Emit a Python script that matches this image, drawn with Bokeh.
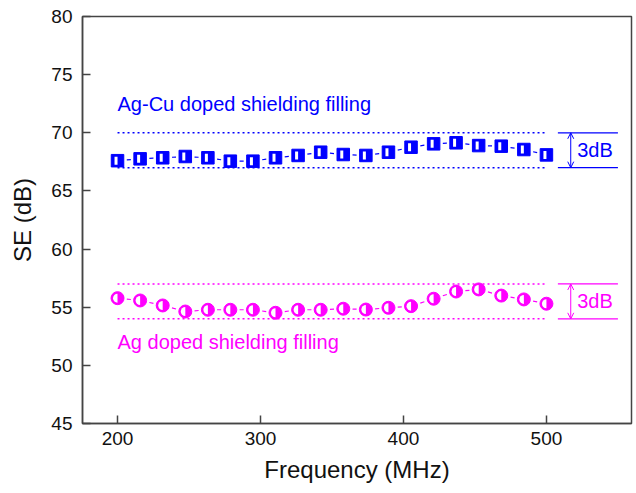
import numpy as np
from bokeh.plotting import figure
from bokeh.models import Range1d, FixedTicker, Arrow, OpenHead
from bokeh.core.properties import value
from bokeh.embed import file_html
from bokeh.resources import INLINE

# ---- data ----
freq = [200, 215.8, 231.6, 247.4, 263.2, 278.9, 294.7, 310.5, 326.3, 342.1,
        357.9, 373.7, 389.5, 405.3, 421.1, 436.8, 452.6, 468.4, 484.2, 500]
se_agcu = [67.6, 67.76, 67.85, 67.96, 67.85, 67.56, 67.56, 67.85, 68.05, 68.33,
           68.13, 68.05, 68.33, 68.76, 69.05, 69.14, 68.9, 68.85, 68.56, 68.1]
se_ag = [55.78, 55.58, 55.15, 54.63, 54.78, 54.78, 54.78, 54.52, 54.78, 54.78,
         54.87, 54.8, 54.95, 55.09, 55.73, 56.35, 56.53, 56.0, 55.67, 55.3]
agcu_band = [67, 70]
ag_band = [54, 57]
x_ticks = [200, 300, 400, 500]
y_ticks = [45, 50, 55, 60, 65, 70, 75, 80]
label_agcu = "Ag-Cu doped shielding filling"
label_ag = "Ag doped shielding filling"
band_label = "3dB"

BLUE = "#0000ff"
MAG = "#ff00ff"
FONT = "Liberation Sans"
AXC = "#444444"

p = figure(width=636, height=493, output_backend="svg", toolbar_location=None,
           x_range=Range1d(175.5, 559.5), y_range=Range1d(45, 80),
           min_border_left=82, min_border_right=5, min_border_top=16, min_border_bottom=70)
p.background_fill_color = "white"
p.border_fill_color = "white"
p.xgrid.visible = False
p.ygrid.visible = False
p.outline_line_color = AXC
p.outline_line_width = 1.5

for ax in (p.xaxis[0], p.yaxis[0]):
    ax.axis_line_color = AXC
    ax.axis_line_width = 1.5
    ax.major_tick_line_color = AXC
    ax.major_tick_line_width = 1.5
    ax.major_tick_in = 8
    ax.major_tick_out = 0
    ax.minor_tick_line_color = None
    ax.major_label_text_font = FONT
    ax.major_label_text_font_size = "19px"
    ax.major_label_text_color = "#111111"
    ax.axis_label_text_font = FONT
    ax.axis_label_text_font_size = "24px"
    ax.axis_label_text_font_style = "normal"
    ax.axis_label_text_color = "#111111"

p.xaxis.ticker = FixedTicker(ticks=x_ticks)
p.yaxis.ticker = FixedTicker(ticks=y_ticks)
p.xaxis.axis_label = "Frequency (MHz)"
p.yaxis.axis_label = "SE (dB)"
p.xaxis.major_label_standoff = 8
p.yaxis.major_label_standoff = 10
p.xaxis.axis_label_standoff = 8
p.yaxis.axis_label_standoff = 12

px_per_mhz = 1.43  # used only to convert small screen offsets


def draw_series(ys, band, color, kind, text, text_y):
    fx = np.array(freq, dtype=float)
    fy = np.array(ys, dtype=float)
    # dotted band lines
    for b in band:
        p.line([freq[0], freq[-1]], [b, b], line_color=color, line_width=1.5,
               line_dash="2 3")
    # short connecting dashes between markers
    x0 = fx[:-1] + 0.41 * np.diff(fx)
    x1 = fx[:-1] + 0.59 * np.diff(fx)
    y0 = fy[:-1] + 0.41 * np.diff(fy)
    y1 = fy[:-1] + 0.59 * np.diff(fy)
    p.segment(x0, y0, x1, y1, line_color=color, line_width=1.2)
    if kind == "square":
        p.scatter(fx, fy, marker="square", size=12.5, fill_color=color,
                  line_color=color, line_width=1)
        p.rect(fx - 1.5 / px_per_mhz, fy, width=3, height=8, width_units="screen",
               height_units="screen", fill_color="white", line_color=None)
    else:
        p.scatter(fx, fy, marker="circle", size=13, fill_color=color,
                  line_color=color, line_width=1)
        p.wedge(fx, fy, radius=4.5, radius_units="screen", start_angle=np.pi / 2,
                end_angle=3 * np.pi / 2, fill_color="white", line_color=None)
    # 3dB bracket
    for b in band:
        p.line([508, 550], [b, b], line_color=color, line_width=1.3)
    p.add_layout(Arrow(start=OpenHead(size=6, line_color=color, line_width=1),
                       end=OpenHead(size=6, line_color=color, line_width=1),
                       x_start=517, y_start=band[0], x_end=517, y_end=band[1],
                       line_color=color, line_width=1))
    p.text([521.5], [(band[0] + band[1]) / 2], text=[band_label],
           text_font=value(FONT), text_font_size="20px", text_color=color,
           text_baseline="middle", text_align="left")
    p.text([200], [text_y], text=[text], text_font=value(FONT),
           text_font_size="20px", text_color=color, text_baseline="middle",
           text_align="left")


draw_series(se_agcu, agcu_band, BLUE, "square", label_agcu, 72.5)
draw_series(se_ag, ag_band, MAG, "circle", label_ag, 52.0)

open("out.html", "w").write(file_html(p, INLINE))
